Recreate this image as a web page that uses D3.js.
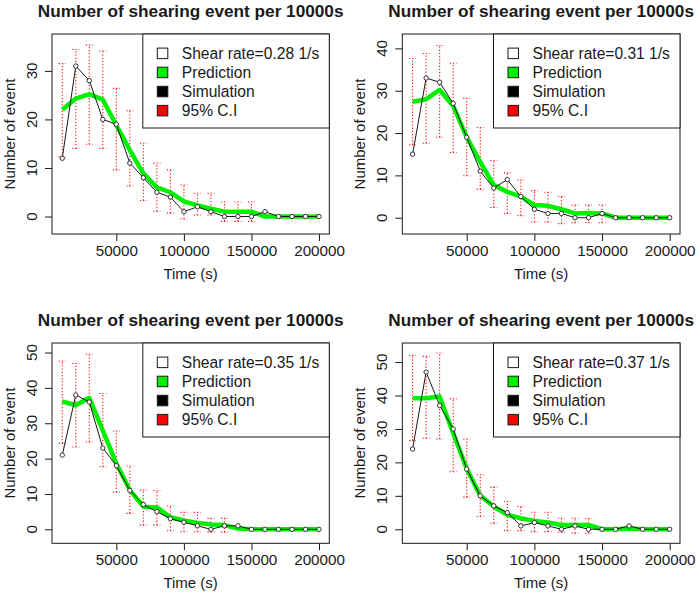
<!DOCTYPE html>
<html>
<head>
<meta charset="utf-8">
<script src="https://cdn.jsdelivr.net/npm/d3@7/dist/d3.min.js"></script>
<style>
  html, body { margin: 0; padding: 0; background: #fff; }
  svg { display: block; font-family: "Liberation Sans", Arial, sans-serif; }
</style>
</head>
<body>
<svg id="chart" width="700" height="596"></svg>
<script>
// ---------- data ----------
const times = [10000, 20000, 30000, 40000, 50000, 60000, 70000, 80000, 90000, 100000,
               110000, 120000, 130000, 140000, 150000, 160000, 170000, 180000, 190000, 200000];
const xTicks = [50000, 100000, 150000, 200000];
const chartTitle = "Number of shearing event per 10000s";
const xLabel = "Time (s)";
const yLabel = "Number of event";
const legendLabels = ["Prediction", "Simulation", "95% C.I"];
const shearRates = ["0.28", "0.31", "0.35", "0.37"];

// shear rate 0.28
const sim028  = [12, 31, 28, 20, 19, 11, 8, 5, 4, 1, 2, 1, 0, 0, 0, 1, 0, 0, 0, 0];
const pred028 = [22, 24.3, 25.2, 24.1, 18.8, 13.7, 8.9, 6.0, 5.0, 3.1, 2.3, 1.6, 1, 1, 1, 0, 0, 0, 0, 0];
const ciLo028 = [12.3, 14.0, 14.9, 14.0, 9.6, 6.3, 3.3, 1.1, 0.7, -0.5, 0.3, 0.3, -1, -1, -1, null, null, null, null, null];
const ciHi028 = [31.5, 34.4, 35.3, 34.1, 26.4, 21.8, 15.1, 11.0, 9.6, 6.5, 4.8, 4.8, 3.0, 3.0, 3.0, null, null, null, null, null];
const yTicks028 = [0, 10, 20, 30];

// shear rate 0.31
const sim031  = [15, 33, 32, 27, 19, 11, 7, 9, 5, 2, 1, 1, 0, 0, 1, 0, 0, 0, 0, 0];
const pred031 = [27.4, 28.0, 30.2, 26.4, 19.0, 13.2, 7.7, 6.1, 5.0, 3.0, 2.8, 2.0, 1.0, 1.1, 1.0, 0, 0, 0, 0, 0];
const ciLo031 = [17.2, 17.6, 19.0, 15.4, 9.9, 6.7, 2.4, 1.0, 0.5, -1.0, -1.0, -1.4, -1.2, -1.2, -1.2, null, null, null, null, null];
const ciHi031 = [37.6, 38.8, 40.7, 36.5, 28.2, 21.3, 13.5, 10.6, 8.9, 6.4, 6.0, 5.0, 3.0, 3.0, 3.0, null, null, null, null, null];
const yTicks031 = [0, 10, 20, 30, 40];

// shear rate 0.35
const sim035  = [21, 38, 36, 23, 18, 11, 7, 5, 3, 2, 1, 0, 1, 1, 0, 0, 0, 0, 0, 0];
const pred035 = [36.2, 35.1, 37.2, 28.0, 18.6, 11.1, 6.4, 6.2, 3.4, 2.5, 1.8, 1.4, 1.2, 0.2, 0, 0, 0, 0, 0, 0];
const ciLo035 = [24.3, 23.3, 24.7, 17.7, 10.5, 4.5, 1.2, 1.2, -0.4, -0.7, -0.7, -0.8, -0.8, null, null, null, null, null, null, null];
const ciHi035 = [47.6, 46.9, 49.5, 38.4, 27.8, 17.9, 11.1, 10.9, 6.6, 4.8, 4.8, 3.1, 3.1, null, null, null, null, null, null, null];
const yTicks035 = [0, 10, 20, 30, 40, 50];

// shear rate 0.37
const sim037  = [24, 47, 37, 30, 18, 10, 7, 5, 1, 2, 1, 0, 1, 0, 0, 0, 1, 0, 0, 0];
const pred037 = [39.2, 39.2, 39.7, 28.7, 18.1, 10.1, 6.8, 4.3, 3.3, 2.5, 2.0, 1.3, 1.3, 1.3, 0, 0, 0.2, 0, 0, 0];
const ciLo037 = [26.5, 27.2, 27.0, 17.2, 9.6, 3.8, 1.8, -0.4, -0.4, -0.7, -0.7, -0.9, -1.2, -1.2, null, null, null, null, null, null];
const ciHi037 = [52.0, 51.7, 52.7, 39.0, 27.0, 16.3, 12.6, 8.3, 6.8, 5.1, 5.1, 3.3, 3.3, 3.3, null, null, null, null, null, null];
const yTicks037 = [0, 10, 20, 30, 40, 50];

// ---------- layout ----------
const panels = [
  { rate: shearRates[0], sim: sim028, pred: pred028, lo: ciLo028, hi: ciHi028, yTicks: yTicks028,
    yDom: [-3.6, 37.6], box: { l: 52, r: 329.3, t: 34, b: 234 } },
  { rate: shearRates[1], sim: sim031, pred: pred031, lo: ciLo031, hi: ciHi031, yTicks: yTicks031,
    yDom: [-3.85, 43.4], box: { l: 402.3, r: 680, t: 34, b: 234 } },
  { rate: shearRates[2], sim: sim035, pred: pred035, lo: ciLo035, hi: ciHi035, yTicks: yTicks035,
    yDom: [-3.95, 52.7], box: { l: 52, r: 329.3, t: 343, b: 543.3 } },
  { rate: shearRates[3], sim: sim037, pred: pred037, lo: ciLo037, hi: ciHi037, yTicks: yTicks037,
    yDom: [-4.2, 55.7], box: { l: 402.3, r: 680, t: 343, b: 543.3 } }
];

const svg = d3.select("#chart");
svg.append("rect").attr("width", 700).attr("height", 596).attr("fill", "#fff");

const GREEN = "#00f000";
const RED = "#ff1a1a";
const INK = "#1a1a1a";

panels.forEach(p => {
  const b = p.box;
  const x = d3.scaleLinear().domain([2400, 207600]).range([b.l, b.r]);
  const y = d3.scaleLinear().domain(p.yDom).range([b.b, b.t]);
  const g = svg.append("g");

  // title
  g.append("text")
    .attr("x", (b.l + b.r) / 2).attr("y", b.t - 17)
    .attr("text-anchor", "middle").attr("font-weight", "bold")
    .attr("font-size", 17.2).attr("fill", INK)
    .text(chartTitle);

  // x axis
  const xAxis = d3.axisBottom(x).tickValues(xTicks).tickSize(7).tickPadding(4)
    .tickFormat(d3.format("d"));
  const gx = g.append("g").attr("transform", `translate(0,${b.b})`).call(xAxis);
  gx.select(".domain").remove();
  gx.selectAll(".tick line").attr("stroke", INK);
  gx.selectAll(".tick text").attr("font-size", 15.2).attr("fill", INK)
    .attr("font-family", "Liberation Sans, Arial, sans-serif").attr("dy", "0.71em").attr("y", 11);

  g.append("text")
    .attr("x", (b.l + b.r) / 2).attr("y", b.b + 45)
    .attr("text-anchor", "middle").attr("font-size", 15).attr("fill", INK)
    .text(xLabel);

  // y axis
  const yAxis = d3.axisLeft(y).tickValues(p.yTicks).tickSize(7).tickFormat(d3.format("d"));
  const gy = g.append("g").attr("transform", `translate(${b.l},0)`).call(yAxis);
  gy.select(".domain").remove();
  gy.selectAll(".tick line").attr("stroke", INK);
  gy.selectAll(".tick text").remove();
  p.yTicks.forEach(t => {
    g.append("text")
      .attr("transform", `translate(${b.l - 15},${y(t)}) rotate(-90)`)
      .attr("text-anchor", "middle").attr("font-size", 15.2).attr("fill", INK)
      .text(t);
  });

  g.append("text")
    .attr("transform", `translate(${b.l - 37},${(b.t + b.b) / 2}) rotate(-90)`)
    .attr("text-anchor", "middle").attr("font-size", 15).attr("fill", INK)
    .text(yLabel);

  // CI error bars
  const ci = times.map((t, i) => ({ t, lo: p.lo[i], hi: p.hi[i] })).filter(d => d.lo !== null);
  const cg = g.append("g").attr("stroke", RED).attr("stroke-width", 1.1)
    .attr("stroke-dasharray", "1.3,1.9").attr("fill", "none");
  cg.selectAll("line.v").data(ci).join("line").attr("class", "v")
    .attr("x1", d => x(d.t)).attr("x2", d => x(d.t))
    .attr("y1", d => y(d.lo)).attr("y2", d => y(d.hi));
  cg.selectAll("line.top").data(ci).join("line").attr("class", "top")
    .attr("x1", d => x(d.t) - 3.5).attr("x2", d => x(d.t) + 3.5)
    .attr("y1", d => y(d.hi)).attr("y2", d => y(d.hi));
  cg.selectAll("line.bot").data(ci).join("line").attr("class", "bot")
    .attr("x1", d => x(d.t) - 3.5).attr("x2", d => x(d.t) + 3.5)
    .attr("y1", d => y(d.lo)).attr("y2", d => y(d.lo));

  // prediction line
  const line = d3.line().x(d => x(d[0])).y(d => y(d[1]));
  g.append("path")
    .attr("d", line(times.map((t, i) => [t, p.pred[i]])))
    .attr("fill", "none").attr("stroke", GREEN).attr("stroke-width", 4.5)
    .attr("stroke-linejoin", "round");

  // simulation line + points
  const simPts = times.map((t, i) => [t, p.sim[i]]);
  g.append("path")
    .attr("d", line(simPts))
    .attr("fill", "none").attr("stroke", INK).attr("stroke-width", 1);
  g.selectAll("circle.sim").data(simPts).join("circle").attr("class", "sim")
    .attr("cx", d => x(d[0])).attr("cy", d => y(d[1])).attr("r", 2.2)
    .attr("fill", "#fff").attr("stroke", "#333").attr("stroke-width", 1);

  // plot box
  g.append("rect")
    .attr("x", b.l).attr("y", b.t).attr("width", b.r - b.l).attr("height", b.b - b.t)
    .attr("fill", "none").attr("stroke", INK).attr("stroke-width", 1);

  // legend
  const lw = 186.5, lh = 94;
  const lx = b.r - lw, ly = b.t;
  const lg = g.append("g");
  lg.append("rect").attr("x", lx).attr("y", ly).attr("width", lw).attr("height", lh)
    .attr("fill", "#fff").attr("stroke", INK).attr("stroke-width", 1);
  const entries = [
    { label: `Shear rate=${p.rate} 1/s`, fill: "#fff" },
    { label: legendLabels[0], fill: GREEN },
    { label: legendLabels[1], fill: "#000" },
    { label: legendLabels[2], fill: "#ff0000" }
  ];
  entries.forEach((e, i) => {
    const cy = ly + 19.3 + i * 19.1;
    lg.append("rect").attr("x", lx + 14.5).attr("y", cy - 5.2).attr("width", 10.5).attr("height", 10.5)
      .attr("fill", e.fill).attr("stroke", INK).attr("stroke-width", 1);
    lg.append("text").attr("x", lx + 39).attr("y", cy + 5.5)
      .attr("font-size", 15.6).attr("fill", INK).text(e.label);
  });
});
</script>
</body>
</html>
